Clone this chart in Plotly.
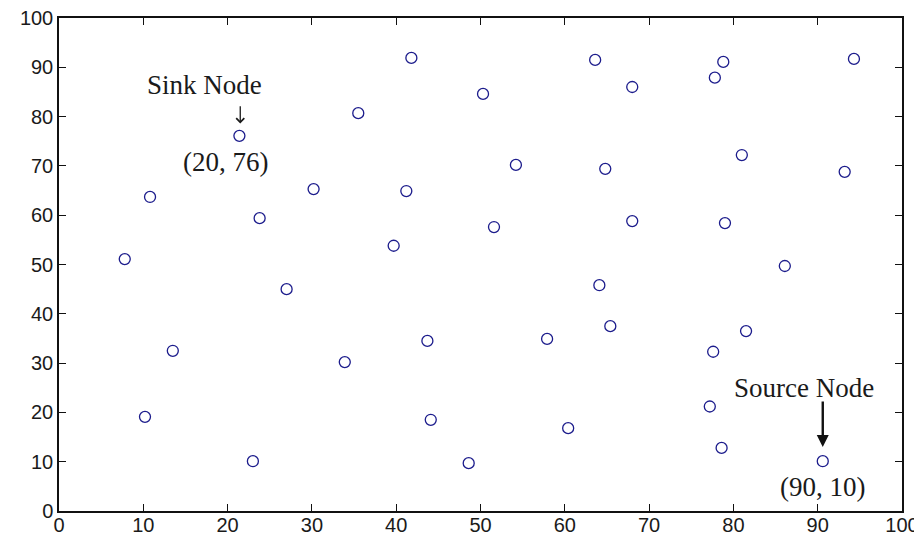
import plotly.graph_objects as go

node_x = [7.8, 10.8, 10.2, 13.5, 21.4, 23.8, 23.0, 27.0, 30.2, 33.9,
          35.5, 39.7, 41.2, 41.8, 43.7, 44.1, 48.6, 50.3, 51.6, 54.2,
          57.9, 60.4, 63.6, 64.1, 64.8, 65.4, 68.0, 68.0, 77.2, 77.8,
          77.6, 78.8, 78.6, 79.0, 81.0, 81.5, 86.1, 90.6, 93.2, 94.3]
node_y = [51.1, 63.7, 19.1, 32.5, 76.1, 59.4, 10.1, 45.0, 65.3, 30.2,
          80.7, 53.8, 64.9, 91.9, 34.5, 18.5, 9.7, 84.6, 57.6, 70.2,
          34.9, 16.8, 91.5, 45.8, 69.4, 37.5, 86.0, 58.8, 21.2, 87.9,
          32.3, 91.1, 12.8, 58.4, 72.2, 36.5, 49.7, 10.1, 68.8, 91.7]

x_ticks = [0, 10, 20, 30, 40, 50, 60, 70, 80, 90, 100]
y_ticks = [0, 10, 20, 30, 40, 50, 60, 70, 80, 90, 100]

fig = go.Figure()
fig.add_trace(go.Scatter(
    x=node_x, y=node_y, mode="markers",
    marker=dict(symbol="circle-open", size=11, color="#1c1c8c",
                line=dict(width=1.3, color="#1c1c8c")),
    showlegend=False, hoverinfo="x+y"))

serif = dict(family="Liberation Serif, Times New Roman, serif", size=27, color="#1a1a1a")

fig.add_annotation(x=17.3, y=86.4, text="Sink Node", showarrow=False, font=serif)
fig.add_annotation(x=19.7, y=70.8, text="(20, 76)", showarrow=False, font=serif)
fig.add_annotation(x=21.5, y=78.6, ax=21.5, ay=82.4, axref="x", ayref="y",
                   xref="x", yref="y", text="", showarrow=True,
                   arrowhead=4, arrowsize=1.2, arrowwidth=1.3, arrowcolor="#1a1a1a")

fig.add_annotation(x=88.4, y=24.9, text="Source Node", showarrow=False, font=serif)
fig.add_annotation(x=90.6, y=4.9, text="(90, 10)", showarrow=False, font=serif)
fig.add_annotation(x=90.6, y=13.0, ax=90.6, ay=22.5, axref="x", ayref="y",
                   xref="x", yref="y", text="", showarrow=True,
                   arrowhead=2, arrowsize=1.0, arrowwidth=2.4, arrowcolor="#111111")

axis_common = dict(showgrid=False, zeroline=False, showline=True, linecolor="#111111",
                   linewidth=1.5, mirror="ticks", ticks="inside", ticklen=7,
                   tickwidth=1.3, tickcolor="#111111", automargin=False,
                   ticklabeloverflow="allow",
                   tickfont=dict(family="Liberation Sans, Arial, sans-serif", size=20,
                                 color="#1a1a1a"))

fig.update_xaxes(range=[0, 100], tickvals=x_ticks, ticklabelstandoff=-5, **axis_common)
fig.update_yaxes(range=[0, 100], tickvals=y_ticks, **axis_common)

fig.update_layout(width=914, height=530, margin=dict(l=51, r=20, t=10, b=27),
                  plot_bgcolor="white", paper_bgcolor="white")

fig.write_html("out.html")
